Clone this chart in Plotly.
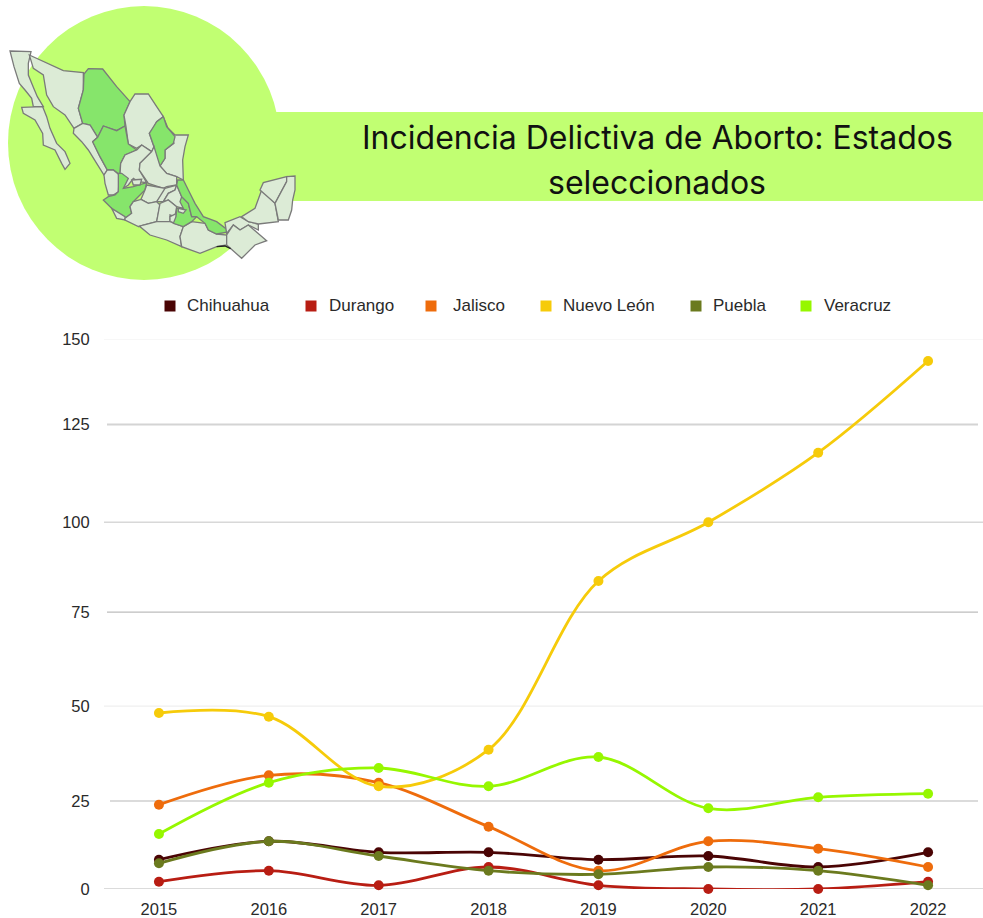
import plotly.graph_objects as go

W, H = 983, 918
years = [2015, 2016, 2017, 2018, 2019, 2020, 2021, 2022]
chihuahua = [8, 13, 10, 10, 8, 9, 6, 10]
durango = [2, 5, 1, 6, 1, 0, 0, 2]
jalisco = [23, 31, 29, 17, 5, 13, 11, 6]
nuevo_leon = [48, 47, 28, 38, 84, 100, 119, 144]
puebla = [7, 13, 9, 5, 4, 6, 5, 1]
veracruz = [15, 29, 33, 28, 36, 22, 25, 26]
series_names = ["Chihuahua", "Durango", "Jalisco", "Nuevo León", "Puebla", "Veracruz"]
series_values = [chihuahua, durango, jalisco, nuevo_leon, puebla, veracruz]
series_colors = ["#4A0404", "#B81D13", "#EE6C0C", "#F6CB0A", "#6B7A1E", "#96F700"]
legend_sq_x = [170, 311, 431, 546, 696, 806]
legend_tx_x = [187, 329, 453, 563, 713, 824]
tick_labels = ["0", "25", "50", "75", "100", "125", "150"]
tick_pos = [0, 24, 49.9, 75.5, 100, 126.7, 150]
grid_colors = ["#CFCFCF", "#CFCFCF", "#EFEFEF", "#BDBDBD", "#D8D8D8", "#D4D4D4", "#EFEFEF"]
grid_widths = [1.5, 1.5, 1.2, 1.2, 1.5, 2, 1.2]
grid_x0 = [104, 110, 104, 107, 104, 107, 104]
grid_x1 = [983, 978, 983, 978, 983, 978, 983]
title_lines = ["Incidencia Delictiva de Aborto: Estados", "seleccionados"]
title_y = [137, 183]

TXT = "#2A2A2A"
GREEN = "#C1FF72"
LIGHT = "#DCEBD6"
HI = "#86E56B"
EDGE = "#7A7A7A"

def px(x):
    return x / W
def py(y):
    return 1 - y / H

# map outlines, traced in a 3x zoom of the reference
states = {
 "BC": (0, [(30,153),(93,155),(85,190),(85,225),(100,262),(112,290),(130,320),(100,320),(95,295),(75,270),(58,250),(42,200)]),
 "BCS": (0, [(65,322),(128,320),(140,350),(150,385),(170,430),(195,455),(210,490),(195,508),(185,490),(165,450),(130,435),(128,400),(105,360),(70,340)]),
 "Son": (0, [(88,165),(190,212),(250,218),(250,270),(235,325),(248,370),(222,385),(195,345),(160,320),(140,285),(130,225),(100,205)]),
 "Chih": (1, [(265,206),(308,207),(350,260),(390,305),(372,345),(375,378),(350,392),(310,378),(293,412),(270,375),(248,370),(235,325),(250,270),(252,222)]),
 "Coah": (0, [(390,305),(405,282),(445,282),(470,320),(490,350),(470,365),(460,385),(448,400),(462,440),(455,455),(425,435),(410,445),(385,432),(378,380),(372,345)]),
 "Tam": (0, [(490,350),(500,380),(525,405),(565,405),(555,440),(548,480),(550,540),(530,530),(500,520),(480,498),(495,475),(495,450),(522,430)]),
 "NL": (1, [(490,350),(500,380),(525,410),(520,430),(495,450),(495,475),(480,498),(465,465),(462,440),(448,400),(470,365)]),
 "Sin": (0, [(222,385),(248,370),(270,375),(293,412),(278,425),(300,470),(322,510),(312,525),(290,490),(265,450),(245,425),(220,400)]),
 "Dgo": (1, [(310,378),(350,392),(375,378),(385,432),(410,450),(375,465),(362,490),(360,525),(340,510),(322,510),(300,470),(278,425),(293,412)]),
 "Zac": (0, [(410,450),(425,435),(455,455),(420,490),(418,510),(440,548),(415,545),(400,535),(385,555),(370,565),(355,560),(360,525),(362,490),(375,465)]),
 "Nay": (0, [(322,510),(340,510),(358,525),(355,575),(340,585),(325,585),(315,550),(312,525)]),
 "SLP": (0, [(455,455),(462,440),(480,498),(500,520),(530,530),(530,555),(500,560),(490,565),(445,550),(418,510),(420,490)]),
 "Jal": (1, [(355,520),(365,520),(385,535),(370,565),(400,560),(440,548),(435,570),(420,585),(400,605),(390,620),(395,640),(375,655),(340,630),(310,600),(325,590),(345,585),(355,575)]),
 "Ags": (0, [(395,540),(425,538),(420,555),(400,555)]),
 "Col": (0, [(335,625),(375,650),(375,660),(350,655)]),
 "Gto": (0, [(440,555),(495,565),(490,585),(470,605),(445,610),(423,598),(435,570)]),
 "Qro": (0, [(495,565),(530,555),(525,570),(505,580),(490,605),(470,605)]),
 "Hgo": (0, [(530,555),(545,590),(550,625),(530,620),(505,600),(490,605),(505,580),(525,570)]),
 "Mich": (0, [(400,605),(423,598),(445,610),(470,605),(480,615),(470,665),(430,675),(415,680),(375,660),(375,655),(395,640),(390,620)]),
 "Mex": (0, [(480,610),(505,600),(530,620),(525,650),(510,645),(510,665),(470,665)]),
 "Mor": (0, [(510,650),(530,640),(525,670),(510,665)]),
 "Gro": (0, [(415,680),(430,675),(470,665),(510,665),(550,680),(540,710),(545,740),(500,720),(450,705),(420,680)]),
 "Oax": (0, [(550,680),(575,665),(615,670),(625,690),(650,702),(680,705),(680,735),(650,740),(600,760),(545,740),(540,710)]),
 "Pue": (1, [(545,590),(565,610),(575,650),(590,650),(575,665),(550,680),(520,670),(528,650),(530,625),(550,625),(540,605)]),
 "Tlax": (0, [(535,625),(558,630),(550,640),(535,635)]),
 "Ver": (1, [(533,540),(550,540),(565,570),(585,610),(610,650),(650,665),(690,695),(650,702),(625,690),(615,670),(590,650),(575,650),(565,610),(545,590),(530,555)]),
 "Tab": (0, [(675,668),(720,650),(745,665),(775,672),(775,690),(745,675),(720,690),(700,675),(680,700)]),
 "Chis": (0, [(680,705),(700,675),(720,690),(745,675),(800,722),(765,735),(725,775),(680,735)]),
 "Camp": (0, [(725,650),(765,625),(785,570),(825,610),(835,665),(775,672),(745,665)]),
 "Yuc": (0, [(780,570),(790,548),(860,530),(860,545),(825,610)]),
 "QR": (0, [(860,530),(885,528),(885,570),(878,600),(875,630),(865,660),(835,660),(825,610),(860,545)]),
}

shapes = []
# banner and circle
shapes.append(dict(type="rect", xref="paper", yref="paper", x0=px(270), x1=px(983), y0=py(201), y1=py(112),
                   fillcolor=GREEN, line_width=0, layer="below"))
shapes.append(dict(type="circle", xref="paper", yref="paper", x0=px(8), x1=px(280), y0=py(280), y1=py(6),
                   fillcolor=GREEN, line_width=0, layer="below"))
for hi, pts in states.values():
    d = "M" + " L".join(f"{px(x/3):.5f},{py(y/3):.5f}" for x, y in pts) + " Z"
    shapes.append(dict(type="path", xref="paper", yref="paper", path=d, fillcolor=HI if hi else LIGHT,
                       line=dict(color=EDGE, width=1.3), layer="below"))
shapes.append(dict(type="path", xref="paper", yref="paper",
                   path="M" + " L".join(f"{px(x/3):.5f},{py(y/3):.5f}" for x, y in [(650,740),(675,738),(692,746)]),
                   line=dict(color="#222222", width=1.3), layer="below"))
# grid lines
for p, c, w, x0, x1 in zip(tick_pos, grid_colors, grid_widths, grid_x0, grid_x1):
    shapes.append(dict(type="line", xref="paper", yref="y", x0=px(x0), x1=px(x1), y0=p, y1=p,
                       line=dict(color=c, width=w), layer="below"))
# legend squares
for sx, c in zip(legend_sq_x, series_colors):
    shapes.append(dict(type="rect", xref="paper", yref="paper", x0=px(sx-5.5), x1=px(sx+5.5), y0=py(311.5), y1=py(300.5),
                       fillcolor=c, line_width=0))

annotations = []
for line, ty in zip(title_lines, title_y):
    annotations.append(dict(text=line, xref="paper", yref="paper", x=px(657), y=py(ty), xanchor="center",
                            yanchor="middle", showarrow=False, font=dict(family="Inter", size=32, color="#111111")))
for name, tx in zip(series_names, legend_tx_x):
    annotations.append(dict(text=name, xref="paper", yref="paper", x=px(tx), y=py(306), xanchor="left",
                            yanchor="middle", showarrow=False, xshift=-2,
                            font=dict(family="Liberation Sans", size=17, color=TXT)))

fig = go.Figure()
for name, vals, col in zip(series_names, series_values, series_colors):
    fig.add_trace(go.Scatter(x=years, y=vals, name=name, mode="lines+markers", cliponaxis=False,
                             line=dict(color=col, width=2.8, shape="spline", smoothing=1.0),
                             marker=dict(color=col, size=10)))

fig.update_layout(
    width=W, height=H, autosize=False, margin=dict(l=0, r=0, t=0, b=0),
    paper_bgcolor="white", plot_bgcolor="white", showlegend=False,
    shapes=shapes, annotations=annotations,
    xaxis=dict(domain=[px(104), 1], range=[2014.5, 2022.5], tickmode="array", tickvals=years,
               ticktext=[str(y) for y in years], showgrid=False, zeroline=False, showline=False,
               ticks="outside", ticklen=5, tickcolor="rgba(0,0,0,0)", automargin=False,
               tickfont=dict(family="Liberation Sans", size=16.5, color=TXT)),
    yaxis=dict(domain=[py(889), py(339)], range=[0, 150], tickmode="array", tickvals=tick_pos,
               ticktext=tick_labels, showgrid=False, zeroline=False, showline=False,
               ticks="outside", ticklen=10, tickcolor="rgba(0,0,0,0)", automargin=False,
               tickfont=dict(family="Liberation Sans", size=16.5, color=TXT)),
)
fig.write_html("out.html", config={"displayModeBar": False},
               post_script="document.body.style.margin='0';document.documentElement.style.overflow='hidden';")
